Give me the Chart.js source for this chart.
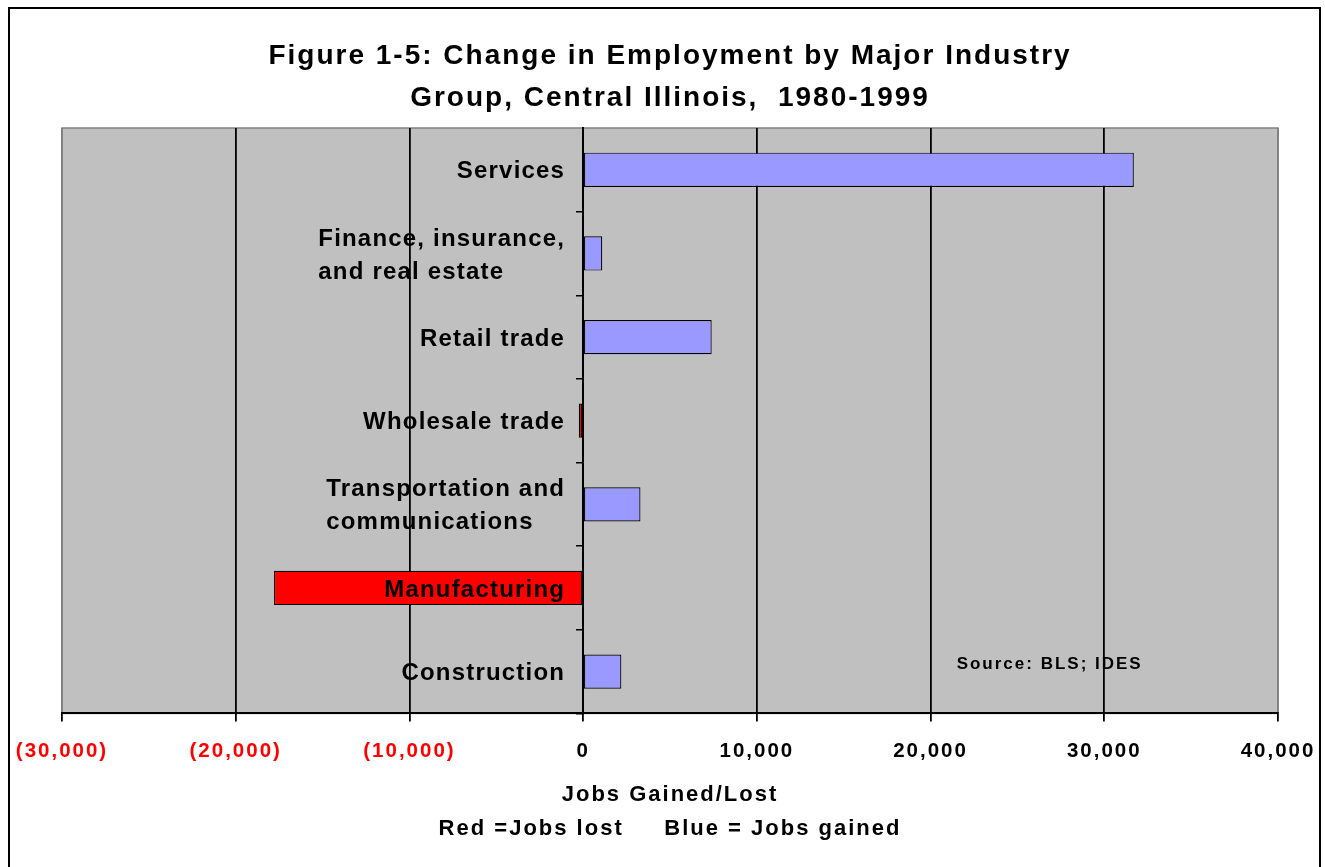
<!DOCTYPE html>
<html>
<head>
<meta charset="utf-8">
<script src="https://cdn.jsdelivr.net/npm/chart.js@4/dist/chart.umd.min.js"></script>
<style>
  html, body { margin: 0; padding: 0; background: #fff; }
  canvas { display: block; }
</style>
</head>
<body>
<canvas id="myChart1" width="1325" height="867"></canvas>
<script>
const industries = [
    "Services",
    ["Finance, insurance,", "and real estate"],
    "Retail trade",
    "Wholesale trade",
    ["Transportation and", "communications"],
    "Manufacturing",
    "Construction",
];
const jobsChange = [31700, 1100, 7400, -250, 3300, -17800, 2200];
const xTicks = [-30000, -20000, -10000, 0, 10000, 20000, 30000, 40000];

const FONT = "'Liberation Sans', Arial, Helvetica, sans-serif";
Chart.defaults.font.family = FONT;
Chart.defaults.color = "#000";

// grey plot area, source note and the outer frame
const plotBackground = {
    id: "plotBackground",
    beforeDraw(chart) {
        const { ctx, chartArea: a } = chart;
        ctx.save();
        ctx.fillStyle = "#fff";
        ctx.fillRect(0, 0, chart.width, chart.height);
        ctx.fillStyle = "#c0c0c0";
        ctx.fillRect(a.left, a.top, a.right - a.left, a.bottom - a.top);
        ctx.strokeStyle = "#808080";
        ctx.lineWidth = 1.5;
        ctx.strokeRect(a.left, a.top, a.right - a.left, a.bottom - a.top);

        ctx.fillStyle = "#000";
        ctx.font = "bold 17px " + FONT;
        ctx.letterSpacing = "2px";
        ctx.textBaseline = "middle";
        ctx.textAlign = "left";
        const x = chart.scales.x.getPixelForValue(21500);
        const y = chart.scales.y.getPixelForValue(6) - 7;
        ctx.fillText("Source: BLS; IDES", x, y);
        ctx.restore();

        // wide lettering for the title and the x axis text
        ctx.letterSpacing = "2px";
    },
    afterDraw(chart) {
        const ctx = chart.ctx;
        ctx.letterSpacing = "0px";
        ctx.save();
        ctx.strokeStyle = "#000";
        ctx.lineWidth = 2;
        ctx.strokeRect(9, 8, 1311, 900);
        ctx.restore();
    },
};

// industry names sit left of the zero line, on top of the bars
const industryLabels = {
    id: "industryLabels",
    afterDatasetsDraw(chart) {
        const { ctx, scales } = chart;
        ctx.save();
        ctx.letterSpacing = "1.2px";
        ctx.font = "bold 24px " + FONT;
        ctx.fillStyle = "#000";
        ctx.textAlign = "left";
        ctx.textBaseline = "middle";
        const right = scales.x.getPixelForValue(0) - 18;
        industries.forEach((label, i) => {
            const lines = Array.isArray(label) ? label : [label];
            const w = Math.max(...lines.map((l) => ctx.measureText(l).width));
            const cy = scales.y.getPixelForValue(i) + 2;
            lines.forEach((l, k) => {
                ctx.fillText(l, right - w, cy + (k - (lines.length - 1) / 2) * 33);
            });
        });
        ctx.restore();
    },
};

const ctx = document.getElementById("myChart1").getContext("2d");
const myChart = new Chart(ctx, {
    type: "bar",
    data: {
        labels: industries,
        datasets: [
            {
                label: "Jobs gained/lost",
                data: jobsChange,
                backgroundColor: jobsChange.map((v) => (v < 0 ? "#ff0000" : "#9999ff")),
                borderColor: "#000",
                borderWidth: 1.2,
                borderSkipped: false,
                barPercentage: 0.41,
                categoryPercentage: 1,
            },
        ],
    },
    options: {
        indexAxis: "y",
        responsive: false,
        animation: false,
        devicePixelRatio: 1,
        layout: {
            padding: { left: 62, right: 47, top: 0, bottom: 0 },
        },
        scales: {
            x: {
                min: -30000,
                max: 40000,
                afterBuildTicks: (axis) => {
                    axis.ticks = xTicks.map((v) => ({ value: v }));
                },
                // end labels fit inside the side padding
                afterFit: (axis) => {
                    axis.paddingLeft = 0;
                    axis.paddingRight = 0;
                },
                grid: {
                    color: (c) =>
                        c.tick && (c.tick.value === -30000 || c.tick.value === 40000) ? "#808080" : "#000",
                    tickColor: "#000",
                    lineWidth: 1.8,
                    tickLength: 8,
                },
                border: { color: "#000", width: 2 },
                ticks: {
                    padding: 18,
                    font: { size: 20.5, weight: "bold" },
                    color: (c) => (c.tick && c.tick.value < 0 ? "#ff0000" : "#000"),
                    callback: (v) =>
                        v < 0 ? "(" + Math.abs(v).toLocaleString("en-US") + ")" : v.toLocaleString("en-US"),
                },
                title: {
                    display: true,
                    text: ["Jobs Gained/Lost", "Red =Jobs lost     Blue = Jobs gained"],
                    font: { size: 22, weight: "bold", lineHeight: 1.545 },
                    padding: { top: -4, bottom: 21 },
                },
            },
            y: {
                position: { x: 0 },
                grid: {
                    drawOnChartArea: false,
                    color: (c) => (c.index === 0 ? "rgba(0,0,0,0)" : "#000"),
                    lineWidth: 1.5,
                    tickLength: 6,
                },
                border: { color: "#000", width: 2 },
                ticks: { display: false },
            },
        },
        plugins: {
            legend: { display: false },
            tooltip: { enabled: false },
            title: {
                display: true,
                text: [
                    "Figure 1-5: Change in Employment by Major Industry",
                    "Group, Central Illinois,  1980-1999",
                ],
                font: { size: 28, weight: "bold", lineHeight: 1.5 },
                color: "#000",
                padding: { top: 35, bottom: 9 },
            },
        },
    },
    plugins: [plotBackground, industryLabels],
});
</script>
</body>
</html>
